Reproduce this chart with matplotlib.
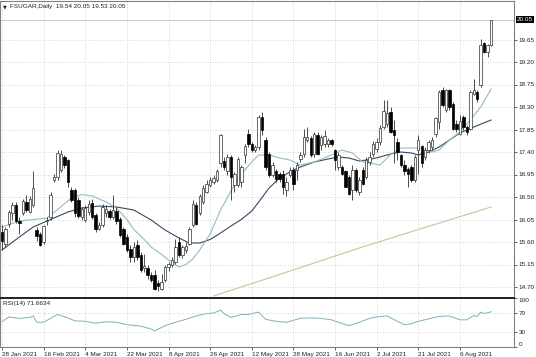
import matplotlib
matplotlib.use("Agg")
import matplotlib.pyplot as plt
import matplotlib.transforms as mtransforms
import numpy as np

plt.rcParams["font.family"] = ["Liberation Sans", "DejaVu Sans"]

# FSUGAR daily candles (one entry per bar)
opens = [15.80, 15.57, 15.97, 16.17, 16.34, 16.01, 16.17, 16.41, 16.21, 16.34,
         15.85, 15.77, 15.60, 16.02, 16.11, 16.84, 16.91, 17.04, 17.30, 17.24,
         16.64, 16.64, 16.45, 16.10, 16.04, 16.21, 16.37, 16.14, 15.87, 15.94,
         16.17, 16.21, 16.11, 16.21, 16.07, 15.87, 15.70, 15.47, 15.30, 15.55,
         15.35, 15.08, 15.07, 14.94, 14.94, 14.77, 14.67, 14.84, 15.10, 15.14,
         15.21, 15.60, 15.35, 15.45, 15.57, 15.94, 16.34, 16.17, 16.40, 16.61,
         16.74, 16.81, 16.84, 17.17, 17.21, 17.01, 17.31, 16.74, 16.74, 16.80,
         17.34, 17.77, 17.57, 17.44, 17.51, 18.11, 17.64, 17.35, 16.94, 17.01,
         16.97, 16.97, 16.64, 16.94, 17.04, 17.04, 17.27, 17.37, 17.64, 17.67,
         17.37, 17.74, 17.54, 17.57, 17.57, 17.64, 17.44, 17.10, 17.11, 17.01,
         16.91, 16.64, 17.04, 16.60, 17.04, 16.91, 17.21, 17.37, 17.47, 17.61,
         17.91, 17.97, 18.21, 17.84, 17.61, 17.34, 17.14, 17.07, 17.11, 16.84,
         17.44, 17.51, 17.31, 17.44, 17.50, 17.77, 18.00, 18.64, 18.24, 18.64,
         18.37, 17.97, 17.77, 18.11, 17.91, 17.87, 18.57, 18.61, 18.74, 19.57,
         19.41, 19.54]
highs = [15.95, 15.91, 16.24, 16.41, 16.40, 16.10, 16.47, 16.54, 16.51, 17.01,
         15.90, 15.80, 15.95, 16.11, 16.60, 16.97, 17.44, 17.44, 17.35, 17.27,
         16.70, 16.67, 16.50, 16.30, 16.34, 16.44, 16.47, 16.17, 16.00, 16.37,
         16.34, 16.27, 16.54, 16.30, 16.10, 15.90, 15.77, 15.55, 15.60, 15.64,
         15.40, 15.37, 15.14, 15.00, 15.04, 14.84, 14.97, 15.14, 15.20, 15.30,
         15.67, 15.70, 15.55, 15.60, 15.91, 16.44, 16.40, 16.57, 16.74, 16.84,
         16.91, 16.95, 17.07, 17.77, 17.30, 17.37, 17.34, 17.00, 17.30, 17.15,
         17.57, 17.87, 17.60, 17.55, 18.15, 18.21, 17.70, 17.40, 17.20, 17.07,
         17.00, 17.04, 16.91, 17.10, 17.11, 17.20, 17.40, 17.87, 17.90, 17.72,
         17.80, 17.80, 17.75, 17.84, 17.68, 17.66, 17.47, 17.40, 17.15, 17.05,
         16.95, 17.14, 17.08, 16.90, 17.10, 17.30, 17.40, 17.62, 17.68, 17.95,
         18.44, 18.44, 18.30, 18.04, 17.67, 17.37, 17.24, 17.11, 17.14, 17.35,
         17.74, 17.55, 17.50, 17.65, 17.70, 18.10, 18.64, 18.70, 18.67, 18.67,
         18.40, 18.05, 18.14, 18.15, 17.95, 18.64, 18.87, 18.64, 19.67, 19.60,
         19.57, 20.05]
lows = [15.45, 15.50, 15.90, 16.04, 15.98, 15.77, 16.14, 16.21, 16.17, 16.30,
        15.62, 15.52, 15.57, 15.94, 16.04, 16.80, 16.84, 17.00, 17.08, 16.71,
        16.40, 16.11, 16.08, 16.05, 16.00, 16.15, 16.07, 15.81, 15.84, 15.91,
        16.10, 16.07, 16.07, 15.97, 15.70, 15.55, 15.40, 15.20, 15.20, 15.25,
        15.00, 15.00, 14.87, 14.80, 14.64, 14.62, 14.64, 14.80, 15.02, 15.10,
        15.17, 15.30, 15.28, 15.38, 15.54, 15.90, 15.94, 16.14, 16.35, 16.58,
        16.70, 16.77, 16.80, 17.10, 17.05, 16.95, 16.44, 16.60, 16.70, 16.70,
        17.17, 17.50, 17.40, 17.40, 17.45, 17.75, 17.05, 16.90, 16.90, 16.80,
        16.80, 16.57, 16.51, 16.90, 16.64, 16.84, 17.20, 17.30, 17.60, 17.30,
        17.30, 17.35, 17.45, 17.50, 17.50, 17.52, 17.04, 17.05, 16.95, 16.70,
        16.55, 16.44, 16.60, 16.55, 16.74, 16.85, 17.15, 17.30, 17.40, 17.55,
        17.87, 17.91, 17.78, 17.17, 17.24, 17.11, 16.94, 16.71, 16.80, 16.80,
        16.97, 17.10, 17.25, 17.38, 17.45, 17.70, 17.87, 18.30, 18.20, 18.25,
        17.84, 17.80, 17.74, 17.85, 17.75, 17.84, 18.54, 18.40, 18.71, 19.38,
        19.31, 19.53]
closes = [15.62, 15.87, 16.21, 16.34, 16.01, 15.99, 16.41, 16.24, 16.47, 16.67,
          15.72, 15.55, 15.92, 16.04, 16.54, 16.91, 17.37, 17.37, 17.15, 16.81,
          16.44, 16.17, 16.12, 16.25, 16.27, 16.37, 16.11, 15.87, 15.94, 16.31,
          16.27, 16.11, 16.24, 16.01, 15.74, 15.57, 15.44, 15.30, 15.50, 15.30,
          15.05, 15.12, 14.94, 14.84, 14.67, 14.71, 14.81, 15.11, 15.17, 15.24,
          15.51, 15.35, 15.50, 15.52, 15.87, 16.37, 15.97, 16.51, 16.67, 16.77,
          16.84, 16.88, 17.01, 17.74, 17.11, 17.31, 16.91, 16.97, 17.27, 17.10,
          17.51, 17.57, 17.44, 17.51, 18.11, 17.84, 17.11, 16.95, 17.14, 16.87,
          16.87, 16.71, 16.81, 17.04, 16.77, 17.14, 17.34, 17.71, 17.71, 17.34,
          17.77, 17.37, 17.71, 17.71, 17.64, 17.57, 17.24, 17.34, 16.97, 16.71,
          16.57, 17.04, 16.64, 16.84, 16.77, 17.24, 17.31, 17.57, 17.61, 17.87,
          18.21, 18.17, 17.81, 17.74, 17.41, 17.14, 17.01, 16.97, 16.84, 17.31,
          17.64, 17.17, 17.44, 17.61, 17.64, 18.07, 18.61, 18.34, 18.64, 18.31,
          17.87, 17.87, 18.01, 17.91, 17.80, 18.61, 18.64, 18.47, 19.54, 19.41,
          19.54, 20.05]

# moving averages, (bar, value)
ma_fast_bars = [0, 5, 9, 13, 16, 20, 23, 26, 30, 33, 36, 38, 41, 43, 46, 48, 51,
                53, 55, 57, 60, 63, 66, 69, 72, 74, 77, 80, 83, 86, 90, 95, 98,
                101, 104, 106, 109, 112, 115, 120, 124, 126, 129, 132, 135, 138, 141]
ma_fast = [15.90, 16.02, 16.05, 16.08, 16.25, 16.48, 16.55, 16.52, 16.40, 16.28,
           16.05, 15.85, 15.65, 15.50, 15.35, 15.24, 15.10, 15.15, 15.26, 15.44,
           15.76, 16.24, 16.62, 16.96, 17.20, 17.34, 17.34, 17.28, 17.24, 17.14,
           17.20, 17.34, 17.44, 17.38, 17.20, 17.18, 17.14, 17.35, 17.48, 17.48,
           17.40, 17.44, 17.64, 17.80, 18.04, 18.30, 18.66]
ma_slow_bars = [0, 5, 9, 14, 19, 23, 28, 33, 38, 43, 47, 51, 54, 57, 60, 63, 66,
                69, 72, 74, 77, 80, 84, 86, 90, 94, 97, 100, 103, 106, 109, 112,
                115, 118, 120, 123, 126, 129, 132, 136, 141]
ma_slow = [15.44, 15.70, 15.90, 16.05, 16.20, 16.28, 16.32, 16.30, 16.24, 16.04,
           15.84, 15.68, 15.58, 15.58, 15.65, 15.78, 15.92, 16.05, 16.22, 16.40,
           16.68, 16.88, 17.04, 17.10, 17.20, 17.26, 17.30, 17.28, 17.22, 17.25,
           17.30, 17.36, 17.40, 17.38, 17.34, 17.40, 17.50, 17.64, 17.78, 17.90,
           18.04]
ma_long_bars = [61, 80, 103, 120, 141]
ma_long = [14.52, 14.95, 15.48, 15.85, 16.30]

# RSI(14), (bar, value)
rsi_bars = [0, 2, 5, 8, 9, 10, 12, 16, 19, 21, 24, 27, 30, 33, 36, 40, 43, 44,
            47, 50, 53, 56, 59, 61, 63, 64, 66, 69, 71, 74, 76, 79, 82, 86, 89,
            92, 95, 97, 100, 103, 106, 108, 111, 114, 116, 118, 120, 123, 126,
            129, 132, 134, 136, 137, 138, 139, 141]
rsi_vals = [51, 61, 58, 60, 63, 50, 50, 66, 59, 53, 52, 48, 51, 50, 45, 42, 36,
            32, 43, 50, 56, 63, 68, 69, 75, 68, 60, 66, 66, 71, 56, 52, 50, 58,
            59, 58, 55, 50, 43, 50, 58, 61, 63, 52, 45, 47, 52, 57, 62, 63, 55,
            55, 64, 62, 71, 68, 71.66]

date_labels = ["28 Jan 2021", "16 Feb 2021", "4 Mar 2021", "22 Mar 2021",
               "8 Apr 2021", "26 Apr 2021", "12 May 2021", "28 May 2021",
               "16 Jun 2021", "2 Jul 2021", "21 Jul 2021", "6 Aug 2021"]
price_ticks = [14.70, 15.15, 15.60, 16.05, 16.50, 16.95, 17.40, 17.85,
               18.30, 18.75, 19.20, 19.65]
rsi_ticks = [0, 30, 70, 100]
last_price = 20.05

FS = 4.6
INK = "#202020"
GRID = dict(color="#c8c8c8", linestyle=(0, (1, 2)), linewidth=0.6)

W, H = 536, 357
fig = plt.figure(figsize=(W / 100, H / 100), dpi=100)
fig.patch.set_facecolor("white")
ax = fig.add_axes([0, (H - 297) / H, 514 / W, 296 / H])
ax_rsi = fig.add_axes([0, (H - 347) / H, 514 / W, 49 / H])

o = np.array(opens)
h = np.array(highs)
l = np.array(lows)
c = np.array(closes)
x = np.arange(len(c))
up = c >= o

# --- candles ---
ax.vlines(x, l, h, color="#303030", linewidth=0.6, zorder=3)
body = np.maximum(np.abs(c - o), 0.012)
ax.bar(x[up], body[up], bottom=o[up], width=0.7, color="white",
       edgecolor="#303030", linewidth=0.5, zorder=4)
ax.bar(x[~up], body[~up], bottom=c[~up], width=0.7, color="black",
       edgecolor="black", linewidth=0.5, zorder=4)

# --- moving averages ---
ax.plot(ma_long_bars, ma_long, color="#d2bf9c", linewidth=0.8, zorder=2)
ax.plot(ma_slow_bars, ma_slow, color="#3f4560", linewidth=0.8, zorder=2)
ax.plot(ma_fast_bars, ma_fast, color="#94bcbc", linewidth=0.8, zorder=2)
ax.axhline(last_price, color="#c0c0c0", linewidth=0.6, zorder=1)

xlim = (-0.58, 147.6)
tick_bars = [12 * i for i in range(len(date_labels))]

ax.set_xlim(*xlim)
ax.set_ylim(14.50, 20.42)
ax.set_xticks(tick_bars)
ax.set_yticks(price_ticks)
ax.set_yticklabels([f"{p:.2f}" for p in price_ticks])
ax.yaxis.tick_right()
ax.tick_params(axis="y", length=2, width=0.5, pad=1.5, labelsize=FS,
               colors=INK)
ax.tick_params(axis="x", length=0, labelbottom=False)
ax.grid(True, **GRID)
ax.set_axisbelow(True)

# last price tag on the scale
trans = mtransforms.blended_transform_factory(ax.transAxes, ax.transData)
ax.text(1.006, last_price, f"{last_price:.2f}", transform=trans, ha="left",
        va="center", fontsize=FS, color="white", clip_on=False,
        bbox=dict(facecolor="black", edgecolor="none", pad=0.6))

ax.text(0.006, 0.99, "\u25bc", transform=ax.transAxes, fontsize=3.6,
        va="top", ha="left", color=INK, family="DejaVu Sans")
ax.text(0.02, 0.99, "FSUGAR,Daily  19.54 20.05 19.53 20.05",
        transform=ax.transAxes, fontsize=FS, va="top", ha="left", color=INK)

# --- RSI panel ---
ax_rsi.plot(rsi_bars, rsi_vals, color="#7fb0bc", linewidth=0.7)
ax_rsi.set_xlim(*xlim)
ax_rsi.set_ylim(-1, 100)
ax_rsi.set_yticks(rsi_ticks)
ax_rsi.set_yticklabels([str(t) for t in rsi_ticks])
ax_rsi.yaxis.tick_right()
ax_rsi.tick_params(axis="y", length=2, width=0.5, pad=1.5, labelsize=FS,
                   colors=INK)
labels = ax_rsi.get_yticklabels()
labels[0].set_va("bottom")
labels[-1].set_va("top")
ax_rsi.set_xticks(tick_bars)
ax_rsi.set_xticklabels(date_labels, ha="left")
ax_rsi.tick_params(axis="x", length=2, width=0.5, pad=1.5, labelsize=FS,
                   colors=INK)
for yv in [30, 70]:
    ax_rsi.axhline(yv, **GRID)
for xv in tick_bars:
    ax_rsi.axvline(xv, **GRID)
ax_rsi.text(0.006, 0.94, "RSI(14) 71.6634", transform=ax_rsi.transAxes,
            fontsize=FS, va="top", ha="left", color=INK)

for a in (ax, ax_rsi):
    for s in a.spines.values():
        s.set_color("#808080")
        s.set_linewidth(0.8)
ax.spines["bottom"].set_visible(False)
ax_rsi.spines["top"].set_color("#202020")
ax_rsi.spines["top"].set_linewidth(1.4)

fig.savefig("out.png", dpi=100)
